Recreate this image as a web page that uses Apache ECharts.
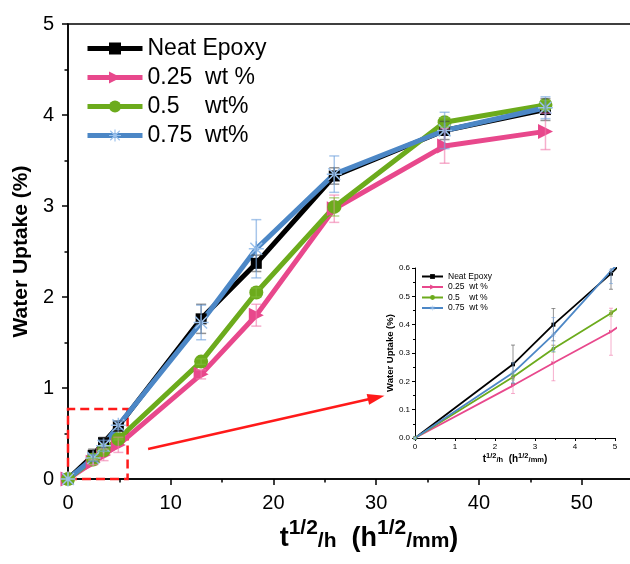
<!DOCTYPE html>
<html>
<head>
<meta charset="utf-8">
<script src="https://cdn.jsdelivr.net/npm/echarts@6/dist/echarts.min.js"></script>
<style>
  html, body { margin: 0; padding: 0; background: #fff; }
  #chart { width: 630px; height: 564px; }
</style>
</head>
<body>
<div id="chart"></div>
<script>
// Immersion time as t^(1/2) (h^(1/2)/mm)
const sqrtTime = [0, 2.45, 3.46, 4.90, 12.96, 18.33, 25.92, 36.66, 46.48];

// Water uptake (%) per formulation
const neatEpoxy = [0, 0.26, 0.40, 0.58, 1.76, 2.37, 3.33, 3.83, 4.06];
const wt025     = [0, 0.185, 0.265, 0.375, 1.15, 1.80, 2.97, 3.66, 3.82];
const wt05      = [0, 0.215, 0.315, 0.44, 1.29, 2.05, 2.99, 3.92, 4.11];
const wt075     = [0, 0.23, 0.365, 0.59, 1.72, 2.53, 3.35, 3.83, 4.08];

// Standard deviations
const errNeat = [0, 0.068, 0.057, 0.055, 0.16, 0.09, 0.09, 0.10, 0.12];
const err025  = [0, 0.028, 0.063, 0.083, 0.05, 0.12, 0.15, 0.19, 0.20];
const err05   = [0, 0.010, 0.012, 0.010, 0.03, 0.05, 0.10, 0.05, 0.05];
const err075  = [0, 0.035, 0.060, 0.045, 0.19, 0.32, 0.20, 0.20, 0.12];

// Legend labels
const mainNames  = ['Neat Epoxy', '0.25  wt %', '0.5    wt%', '0.75  wt%'];
const insetNames = ['Neat Epoxy', '0.25  wt %', '0.5    wt %', '0.75  wt %'];

// Axis ticks
const mainXTicks = [0, 10, 20, 30, 40, 50];
const mainYTicks = [0, 1, 2, 3, 4, 5];

const FONT = 'Liberation Sans, Arial, sans-serif';
const INSET = 'inset: ';

const asterisk = 'path://M0 9L20 9L20 11L0 11Z M9 0L11 0L11 20L9 20Z ' +
  'M1.4 2.8L2.8 1.4L18.6 17.2L17.2 18.6Z M17.2 1.4L18.6 2.8L2.8 18.6L1.4 17.2Z';
const rightTri = 'path://M0 0L20 10L0 20Z';

const styles = [
  { values: neatEpoxy, errs: errNeat, line: '#000000', mark: '#000000', err: 'rgba(60,60,60,0.55)',   symbol: 'rect',   size: 11, inSize: 4 },
  { values: wt025,     errs: err025,  line: '#e8488c', mark: '#e8488c', err: 'rgba(240,120,170,0.6)', symbol: rightTri, size: 15, inSize: 4 },
  { values: wt05,      errs: err05,   line: '#6cab1c', mark: '#6cab1c', err: 'rgba(130,190,60,0.6)',  symbol: 'circle', size: 14, inSize: 4 },
  { values: wt075,     errs: err075,  line: '#4c87c6', mark: '#9cc2ec', err: 'rgba(110,160,220,0.6)', symbol: asterisk, size: 15, inSize: 5 }
];

function errorBars(s, axisIndex, capHalf, width) {
  return {
    type: 'custom',
    xAxisIndex: axisIndex,
    yAxisIndex: axisIndex,
    clip: true,
    silent: true,
    z: 3,
    encode: { x: 0, y: [1, 2] },
    data: sqrtTime.map((x, i) => [x, s.values[i] - s.errs[i], s.values[i] + s.errs[i]]),
    renderItem: function (params, api) {
      if (api.value(2) - api.value(1) <= 0) return null;
      const lo = api.coord([api.value(0), api.value(1)]);
      const hi = api.coord([api.value(0), api.value(2)]);
      const st = { stroke: s.err, lineWidth: width };
      return {
        type: 'group',
        children: [
          { type: 'line', shape: { x1: lo[0], y1: lo[1], x2: hi[0], y2: hi[1] }, style: st },
          { type: 'line', shape: { x1: lo[0] - capHalf, y1: lo[1], x2: lo[0] + capHalf, y2: lo[1] }, style: st },
          { type: 'line', shape: { x1: hi[0] - capHalf, y1: hi[1], x2: hi[0] + capHalf, y2: hi[1] }, style: st }
        ]
      };
    }
  };
}

const series = [];

// Main plot
styles.forEach((s, k) => {
  const line = {
    type: 'line',
    name: mainNames[k],
    xAxisIndex: 0,
    yAxisIndex: 0,
    data: sqrtTime.map((x, i) => [x, s.values[i]]),
    symbol: s.symbol,
    symbolSize: s.size,
    showAllSymbol: true,
    lineStyle: { color: s.line, width: 5 },
    itemStyle: { color: s.mark },
    z: 2
  };
  if (k === 0) {
    // dashed zoom frame and pointer to the inset
    line.markArea = {
      silent: true,
      itemStyle: { color: 'transparent', borderColor: '#ff1a1a', borderWidth: 2.5, borderType: [9, 5] },
      data: [[{ coord: [0, 0] }, { coord: [5.8, 0.77] }]]
    };
    line.markLine = {
      silent: true,
      symbol: ['none', 'triangle'],
      symbolSize: [11, 17],
      label: { show: false },
      lineStyle: { color: '#ff1a1a', width: 2.5, type: 'solid' },
      data: [[{ coord: [7.8, 0.33] }, { coord: [30.0, 0.895] }]]
    };
  }
  series.push(line);
});
styles.forEach(s => series.push(errorBars(s, 0, 5, 1.5)));

// Inset (early-time region)
styles.forEach((s, k) => {
  series.push({
    type: 'line',
    name: INSET + insetNames[k],
    xAxisIndex: 1,
    yAxisIndex: 1,
    data: sqrtTime.map((x, i) => [x, s.values[i]]),
    symbol: s.symbol === rightTri ? 'triangle' : s.symbol,
    symbolRotate: s.symbol === rightTri ? -90 : 0,
    symbolSize: s.inSize,
    showAllSymbol: true,
    lineStyle: { color: s.line, width: 1.8 },
    itemStyle: { color: s.mark === '#9cc2ec' ? '#8fb8e6' : s.mark },
    clip: true,
    z: 2
  });
});
styles.forEach(s => series.push(errorBars(s, 1, 2, 1)));

// t^(1/2)/h (h^(1/2)/mm) with super- and small segments
const xTitle = '{b|t}{s|1/2}{m|/h}{b|  (h}{s|1/2}{m|/mm}{b|)}';

const option = {
  animation: false,
  backgroundColor: '#ffffff',
  textStyle: { fontFamily: FONT, color: '#000' },
  grid: [
    { left: 68, top: 24, width: 565, height: 455, show: true, borderColor: '#000', borderWidth: 1.5, backgroundColor: 'transparent', containLabel: false, outerBoundsMode: 'none' },
    { left: 415, top: 268, width: 200, height: 170, containLabel: false, outerBoundsMode: 'none' }
  ],
  legend: [
    {
      data: mainNames,
      orient: 'vertical',
      left: 85,
      top: 37,
      padding: 0,
      itemWidth: 55,
      itemHeight: 15,
      itemGap: 6,
      itemTextGap: 6,
      selectedMode: false,
      lineStyle: { width: 5 },
      textStyle: { fontFamily: FONT, fontSize: 23, color: '#000' }
    },
    {
      data: insetNames.map(n => INSET + n),
      formatter: n => n.slice(INSET.length),
      orient: 'vertical',
      left: 421,
      top: 272,
      padding: 0,
      itemWidth: 21,
      itemHeight: 6,
      itemGap: 1.5,
      itemTextGap: 1,
      selectedMode: false,
      lineStyle: { width: 2 },
      textStyle: { fontFamily: FONT, fontSize: 8.5, color: '#000' }
    }
  ],
  xAxis: [
    {
      type: 'value', gridIndex: 0, min: 0, max: 55, interval: 10,
      splitLine: { show: false },
      axisLine: { lineStyle: { color: '#000', width: 1.5 } },
      axisTick: { inside: false, length: 6, lineStyle: { width: 1.5, color: '#000' } },
      minorTick: { show: true, splitNumber: 2, length: 3.5, lineStyle: { width: 1.5, color: '#000' } },
      axisLabel: {
        margin: 14, fontSize: 20, color: '#000', fontFamily: FONT,
        formatter: v => (mainXTicks.includes(v) ? String(v) : '')
      },
      name: xTitle,
      nameLocation: 'middle',
      nameGap: 43,
      nameTextStyle: {
        padding: [0, 0, 0, 37],
        rich: {
          b: { fontFamily: FONT, fontWeight: 'bold', fontSize: 27, color: '#000', lineHeight: 27, verticalAlign: 'bottom' },
          s: { fontFamily: FONT, fontWeight: 'bold', fontSize: 21, color: '#000', lineHeight: 21, padding: [0, 0, 19, 0] },
          m: { fontFamily: FONT, fontWeight: 'bold', fontSize: 21, color: '#000', lineHeight: 28, verticalAlign: 'bottom' }
        }
      }
    },
    {
      type: 'value', gridIndex: 1, min: 0, max: 5, interval: 1,
      splitLine: { show: false },
      axisLine: { lineStyle: { color: '#000', width: 1 } },
      axisTick: { length: 3, lineStyle: { width: 1, color: '#000' } },
      minorTick: { show: true, splitNumber: 2, length: 2, lineStyle: { width: 1, color: '#000' } },
      axisLabel: { margin: 5, fontSize: 8, color: '#000', fontFamily: FONT },
      name: xTitle,
      nameLocation: 'middle',
      nameGap: 15,
      nameTextStyle: {
        rich: {
          b: { fontFamily: FONT, fontWeight: 'bold', fontSize: 10, color: '#000', lineHeight: 10, verticalAlign: 'bottom' },
          s: { fontFamily: FONT, fontWeight: 'bold', fontSize: 7.5, color: '#000', lineHeight: 7.5, padding: [0, 0, 6, 0] },
          m: { fontFamily: FONT, fontWeight: 'bold', fontSize: 7.5, color: '#000', lineHeight: 10, verticalAlign: 'bottom' }
        }
      }
    }
  ],
  yAxis: [
    {
      type: 'value', gridIndex: 0, min: 0, max: 5, interval: 1,
      splitLine: { show: false },
      axisLine: { lineStyle: { color: '#000', width: 1.5 } },
      axisTick: { inside: false, length: 6, lineStyle: { width: 1.5, color: '#000' } },
      minorTick: { show: true, splitNumber: 2, length: 3.5, lineStyle: { width: 1.5, color: '#000' } },
      axisLabel: {
        margin: 14, fontSize: 20, color: '#000', fontFamily: FONT,
        formatter: v => (mainYTicks.includes(v) ? String(v) : '')
      },
      name: 'Water Uptake (%)',
      nameLocation: 'middle',
      nameGap: 35,
      nameTextStyle: { fontFamily: FONT, fontWeight: 'bold', fontSize: 21, color: '#000' }
    },
    {
      type: 'value', gridIndex: 1, min: 0, max: 0.6, interval: 0.1,
      splitLine: { show: false },
      axisLine: { lineStyle: { color: '#000', width: 1 } },
      axisTick: { length: 3, lineStyle: { width: 1, color: '#000' } },
      minorTick: { show: true, splitNumber: 2, length: 2, lineStyle: { width: 1, color: '#000' } },
      axisLabel: { margin: 5, fontSize: 8, color: '#000', fontFamily: FONT, formatter: v => v.toFixed(1) },
      name: 'Water Uptake (%)',
      nameLocation: 'middle',
      nameGap: 17,
      nameTextStyle: { fontFamily: FONT, fontWeight: 'bold', fontSize: 9.5, color: '#000' }
    }
  ],
  series: series
};

const chart = echarts.init(document.getElementById('chart'), null, { renderer: 'canvas' });
chart.setOption(option);
</script>
</body>
</html>
